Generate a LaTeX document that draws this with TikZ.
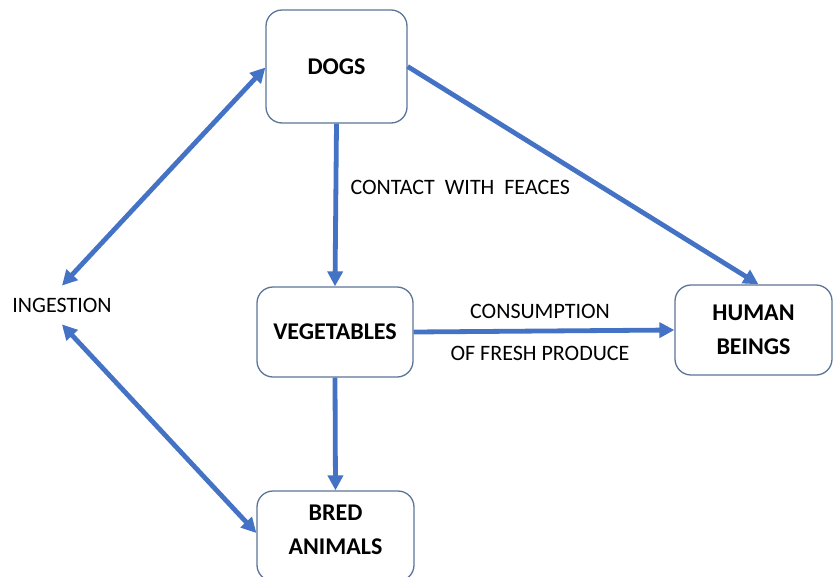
\documentclass[tikz,border=0pt]{standalone}
\usepackage{fontspec}
\setmainfont{Carlito}
\usetikzlibrary{arrows.meta}
\definecolor{arrowblue}{HTML}{4472C4}
\definecolor{boxline}{HTML}{5B7598}
\begin{document}
\begin{tikzpicture}[x=1pt, y=-1pt, font=\fontsize{22}{26}\selectfont,
		box/.style={draw=boxline, line width=1.3pt, rounded corners=16pt, fill=white, align=center, font=\fontsize{24}{34}\selectfont\bfseries},
		flow/.style={draw=arrowblue, line width=4.8pt, -{Triangle[length=15pt,width=15pt]}},
		twoway/.style={flow, {Triangle[length=15pt,width=15pt]}-{Triangle[length=15pt,width=15pt]}}]
		\useasboundingbox (0,0) rectangle (833,576);
		\node[box, minimum width=141pt, minimum height=113pt] (dogs) at (336.5,66.5) {DOGS};
		\node[box, minimum width=156pt, minimum height=90pt] (veg) at (335,332) {VEGETABLES};
		\node[box, minimum width=157pt, minimum height=90pt] (human) at (753.5,330) {HUMAN\\BEINGS};
		\node[box, minimum width=157pt, minimum height=90pt] (bred) at (335.5,536) {};
		\node[align=center, font=\fontsize{24}{34}\selectfont\bfseries] (bredtext) at (335.5,530) {BRED\\ANIMALS};
		\node[inner sep=12pt] (ingestion) at (62,305) {INGESTION};
		% arrows between boxes
		\draw[flow] (dogs.south) -- (veg.north);
		\draw[flow] (dogs.east) -- ([xshift=5pt]human.north);
		\draw[flow] (veg.east) -- (human.west);
		\draw[flow] (veg.south) -- (bred.north);
		\draw[twoway] (ingestion.north) -- ([yshift=-1pt]dogs.west);
		\draw[twoway] (ingestion.south) -- ([yshift=3pt]bred.west);
		% labels
		\node[anchor=west] (contact) at (347,187) {CONTACT\ \ WITH\ \ FEACES};
		\node (cons) at (540,311) {CONSUMPTION};
		\node (fresh) at (540,353) {OF FRESH PRODUCE};
	\end{tikzpicture}
\end{document}
